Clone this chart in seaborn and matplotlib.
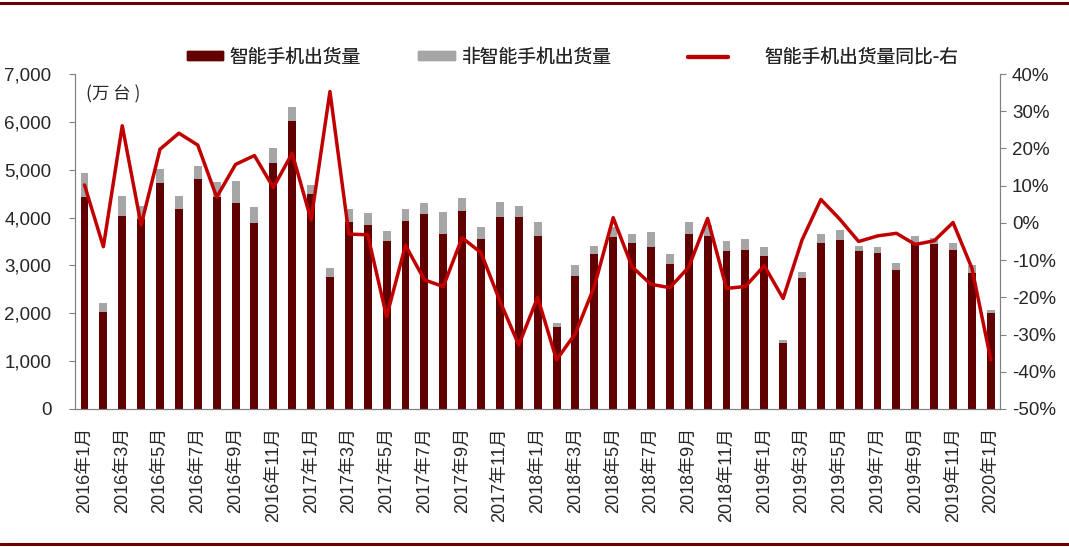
import numpy as np
import pandas as pd
import matplotlib
matplotlib.use('Agg')
import matplotlib.pyplot as plt
import matplotlib.ticker as mticker
from matplotlib.lines import Line2D
from matplotlib.patches import Patch
import seaborn as sns

sns.set_style('white')
plt.rcParams['font.family'] = ['Liberation Sans', 'Noto Sans CJK SC', 'DejaVu Sans']

# 月份
months = [f'{y}年{m}月' for y in range(2016, 2020) for m in range(1, 13)] + ['2020年1月']

# 智能手机出货量(万台)
smart = [4436, 2030, 4040, 3970, 4729, 4172, 4812, 4436, 4311, 3880, 5140, 6024,
         4492, 2765, 3907, 3851, 3517, 3928, 4067, 3663, 4137, 3552, 4011, 4011,
         3607, 1720, 2779, 3232, 3587, 3475, 3391, 3040, 3663, 3615, 3308, 3329,
         3197, 1385, 2737, 3462, 3538, 3308, 3253, 2911, 3462, 3447, 3322, 2849,
         2000]
# 手机总出货量(智能+非智能)
total = [4925, 2208, 4457, 4249, 5008, 4450, 5077, 4743, 4764, 4227, 5447, 6310,
         4680, 2953, 4179, 4101, 3726, 4172, 4297, 4109, 4415, 3803, 4318, 4249,
         3900, 1797, 3009, 3406, 3796, 3657, 3692, 3247, 3900, 3845, 3517, 3552,
         3391, 1435, 2870, 3650, 3734, 3406, 3385, 3044, 3615, 3580, 3469, 3009,
         2069]
# 智能手机出货量同比(%)
yoy = [10.2, -6.4, 26.1, -0.6, 19.8, 24.1, 20.9, 6.9, 15.7, 18.1, 9.5, 18.7,
       0.8, 35.3, -3.0, -3.2, -25.2, -6.0, -15.3, -17.1, -4.0, -8.0, -21.0, -32.8,
       -20.0, -36.8, -29.7, -17.1, 1.4, -11.8, -16.5, -17.4, -11.9, 1.2, -17.6, -17.1,
       -11.5, -20.3, -4.6, 6.3, 1.0, -5.0, -3.5, -2.8, -5.8, -4.8, 0.1, -12.2,
       -36.8]

df = pd.DataFrame({'month': months, 'smart': smart, 'total': total,
                   'yoy': np.array(yoy) / 100})
df['idx'] = range(len(df))

C_SMART = '#600000'
C_OTHER = '#A6A6A6'
C_LINE = '#C00000'
C_AX = '#808080'

fig = plt.figure(figsize=(10.69, 5.47), dpi=100)
ax = fig.add_axes([0.0702, 0.2523, 0.8655, 0.6124])

sns.barplot(data=df, x='month', y='total', color=C_OTHER, width=0.42,
            saturation=1, ax=ax, edgecolor='none')
sns.barplot(data=df, x='month', y='smart', color=C_SMART, width=0.42,
            saturation=1, ax=ax, edgecolor='none')

ax2 = ax.twinx()
sns.lineplot(data=df, x='idx', y='yoy', color=C_LINE, linewidth=2.5, ax=ax2)

n = len(df)
ax.set_xlim(-0.5, n - 0.5)
ax2.set_xlim(-0.5, n - 0.5)
ax.set_ylim(0, 7000)
ax2.set_ylim(-0.5, 0.4)

ax.yaxis.set_major_locator(mticker.MultipleLocator(1000))
ax.yaxis.set_major_formatter(mticker.FuncFormatter(lambda v, p: f'{int(v):,}'))
ax2.yaxis.set_major_locator(mticker.MultipleLocator(0.1))
ax2.yaxis.set_major_formatter(mticker.FuncFormatter(lambda v, p: f'{v*100:.0f}%'))

ax.set_xticks(range(0, n, 2))
ax.set_xticklabels(months[::2], rotation=90, fontsize=13,
                   family=['Liberation Sans', 'Noto Sans CJK SC'])
ax.set_xticks(np.arange(-0.5, n, 1), minor=True)
ax.tick_params(axis='x', which='major', length=0, pad=13)
ax.tick_params(axis='x', which='minor', length=5, color=C_AX, width=1)
ax.tick_params(axis='y', length=4, color=C_AX, labelsize=13.5, left=True, pad=13)
ax2.tick_params(axis='y', length=4, color=C_AX, labelsize=13.5, right=True, pad=4.5)
ax.set_xlabel('')
ax.set_ylabel('')
ax2.set_xlabel('')
ax2.set_ylabel('')

for a in (ax, ax2):
    for s in a.spines.values():
        s.set_visible(False)
    for side in ('left', 'right', 'bottom'):
        a.spines[side].set_visible(True)
        a.spines[side].set_color(C_AX)
ax.grid(False)
ax2.grid(False)

ax.text(0.012, 0.965, '(万 台 )', transform=ax.transAxes, fontsize=12.5, va='top',
        family=['Noto Sans CJK SC'])

# 图例: 三个条目分别定位
leg_font = {'family': 'Noto Sans CJK SC', 'size': 13.5}
entries = [
    (Patch(color=C_SMART), '智能手机出货量', 187, 1.92, 0.35),
    (Patch(color=C_OTHER), '非智能手机出货量', 418, 1.97, 0.35),
    (Line2D([0], [0], color=C_LINE, linewidth=3), '智能手机出货量同比-右', 688, 2.13, 1.95),
]
for h, lab, x0, hl, tp in entries:
    lg = fig.legend([h], [lab], loc='center left', bbox_to_anchor=(x0 / 1069, 1 - 57 / 547),
                    frameon=False, prop=leg_font, handlelength=hl, handleheight=0.38,
                    handletextpad=tp, borderpad=0, borderaxespad=0)
    fig.add_artist(lg)

# 上下边框线
fig.add_artist(Line2D([0, 1], [0.995, 0.995], color='#6B0000', linewidth=2.2,
                      transform=fig.transFigure))
fig.add_artist(Line2D([0, 1], [0.006, 0.006], color='#6B0000', linewidth=2.2,
                      transform=fig.transFigure))

fig.savefig('out.png', dpi=100)
